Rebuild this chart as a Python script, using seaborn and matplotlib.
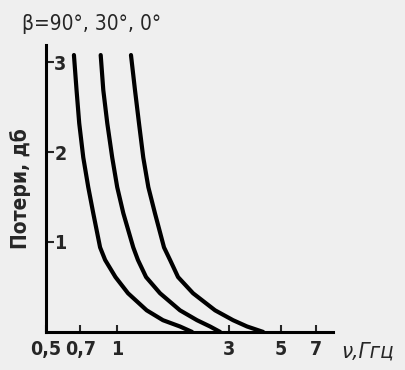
import matplotlib
matplotlib.use('Agg')
import matplotlib.pyplot as plt
import numpy as np
import pandas as pd
import seaborn as sns

# loss curves: frequency (GHz) vs loss (dB)
loss_db = [3.08, 2.69, 2.32, 1.94, 1.61, 1.32, 0.94, 0.80, 0.61, 0.43, 0.24, 0.13, 0.06, 0.0]
freq_90 = [0.658, 0.675, 0.693, 0.721, 0.757, 0.795, 0.850, 0.893, 0.988,
           1.117, 1.341, 1.573, 1.858, 2.09]
freq_30 = [0.855, 0.877, 0.912, 0.957, 1.005, 1.067, 1.176, 1.231, 1.333,
           1.528, 1.858, 2.195, 2.494, 2.75]
freq_0 = [1.150, 1.196, 1.244, 1.297, 1.363, 1.454, 1.589, 1.686, 1.823,
          2.111, 2.619, 3.124, 3.583, 4.19]

x_ticks = [0.5, 0.7, 1, 3, 5, 7]
x_tick_labels = ['0,5', '0,7', '1', '3', '5', '7']
y_ticks = [1, 2, 3]

sns.set_style('white')
plt.rcParams['font.family'] = ['DejaVu Sans']
plt.rcParams['font.stretch'] = 'condensed'
bg = '#efefef'

frames = []
for name, fr in [('90', freq_90), ('30', freq_30), ('0', freq_0)]:
    frames.append(pd.DataFrame({'beta': name, 'f': fr, 'loss': loss_db}))
df = pd.concat(frames, ignore_index=True)

fig = plt.figure(figsize=(4.06, 3.70), dpi=100, facecolor=bg)
ax = fig.add_axes([0.113, 0.103, 0.707, 0.775])
ax.set_facecolor(bg)

sns.lineplot(data=df, x='f', y='loss', hue='beta', palette=['black'] * 3,
             sort=False, estimator=None, legend=False, linewidth=3.0, ax=ax)

ax.set_xscale('log')
ax.set_xlim(0.5, 8.3)
ax.set_ylim(0, 3.19)

for s in ['top', 'right']:
    ax.spines[s].set_visible(False)
for s in ['left', 'bottom']:
    ax.spines[s].set_linewidth(2.2)
    ax.spines[s].set_color('black')

ax.xaxis.set_minor_locator(matplotlib.ticker.NullLocator())
ax.set_xticks(x_ticks)
ax.set_xticklabels(x_tick_labels, fontsize=14, fontweight='bold', fontstretch='condensed')
ax.set_yticks(y_ticks)
ax.set_yticklabels([str(v) for v in y_ticks], fontsize=14, fontweight='bold',
                   fontstretch='condensed')
ax.tick_params(axis='x', bottom=True, direction='in', length=5, width=1.5, pad=6)
ax.tick_params(axis='y', left=True, direction='in', length=6, width=1.5, pad=-6)
for lbl in ax.get_yticklabels():
    lbl.set_horizontalalignment('left')

ax.set_xlabel('')
ax.set_ylabel('')
fig.text(0.05, 0.49, 'Потери, дб', rotation=90, fontsize=15, fontweight='bold',
         fontstretch='condensed', ha='center', va='center')
fig.text(0.84, 0.05, 'ν,Ггц', fontsize=16, style='italic', fontstretch='condensed',
         ha='left', va='center')
fig.text(0.055, 0.935, 'β=90°, 30°, 0°', fontsize=15, fontstretch='condensed',
         ha='left', va='center')

plt.savefig('out.png', dpi=100, facecolor=bg)
